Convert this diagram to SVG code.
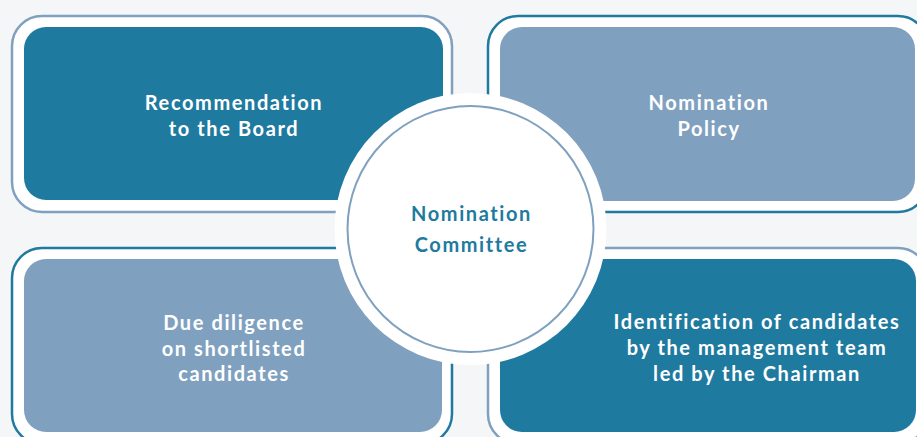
<svg xmlns="http://www.w3.org/2000/svg" width="917" height="437" viewBox="0 0 917 437">
  <style>
    .frame-light { fill: #ffffff; stroke: #7fa1bf; stroke-width: 2.5; }
    .frame-dark { fill: #ffffff; stroke: #1f7aa0; stroke-width: 2.5; }
    .fill-dark { fill: #1f7aa0; }
    .fill-light { fill: #7fa1bf; }
    .label { font-family: "Lato", "Liberation Sans", sans-serif; font-weight: 700; font-size: 20px; letter-spacing: 1.6px; fill: #ffffff; text-anchor: middle; }
    .hub-label { font-family: "Lato", "Liberation Sans", sans-serif; font-weight: 700; font-size: 20px; letter-spacing: 1.6px; fill: #1f7aa0; text-anchor: middle; }
  </style>
  <rect width="917" height="437" fill="#f5f6f8"/>

  <g id="recommendation">
    <rect class="frame-light" x="12" y="16" width="440" height="196" rx="30"/>
    <rect class="fill-dark" x="24" y="27" width="419" height="173" rx="22"/>
    <text class="label" x="234" y="110">Recommendation</text>
    <text class="label" x="234" y="136">to the Board</text>
  </g>

  <g id="policy">
    <rect class="frame-dark" x="488" y="16" width="440" height="196" rx="30"/>
    <rect class="fill-light" x="500" y="27" width="415" height="174" rx="22"/>
    <text class="label" x="709" y="110">Nomination</text>
    <text class="label" x="709" y="136">Policy</text>
  </g>

  <g id="due-diligence">
    <rect class="frame-dark" x="12" y="248" width="440" height="196" rx="30"/>
    <rect class="fill-light" x="24" y="259" width="418" height="173" rx="22"/>
    <text class="label" x="234" y="330">Due diligence</text>
    <text class="label" x="234" y="355.5">on shortlisted</text>
    <text class="label" x="234" y="381">candidates</text>
  </g>

  <g id="identification">
    <rect class="frame-light" x="488" y="248" width="440" height="196" rx="30"/>
    <rect class="fill-dark" x="500" y="259" width="416" height="173" rx="22"/>
    <text class="label" x="757" y="329">Identification of candidates</text>
    <text class="label" x="757" y="355">by the management team</text>
    <text class="label" x="757" y="381">led by the Chairman</text>
  </g>

  <g id="nomination-committee">
    <circle cx="470.5" cy="229" r="136" fill="#ffffff"/>
    <circle cx="470.5" cy="229" r="123" fill="none" stroke="#7fa1bf" stroke-width="2"/>
    <text class="hub-label" x="471.5" y="221">Nomination</text>
    <text class="hub-label" x="471.5" y="252">Committee</text>
  </g>
</svg>
